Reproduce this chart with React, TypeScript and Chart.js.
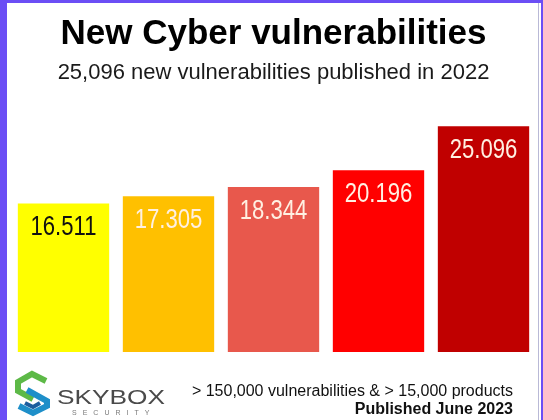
import React, { useEffect, useRef } from "react";
import { Chart, registerables } from "chart.js";

Chart.register(...registerables);

const years = ["2018", "2019", "2020", "2021", "2022"];
const newVulnerabilities = [16511, 17305, 18344, 20196, 25096];
const barColors = ["#FFFF00", "#FFC000", "#E8584C", "#FF0000", "#C00000"];
const labelColors = ["#111111", "#FFF0E2", "#FFF0E2", "#FFF0E2", "#FFF0E2"];
const titleText = "New Cyber vulnerabilities";
const subtitleText = "25,096 new vulnerabilities published in 2022";
const footerLine1 = "> 150,000 vulnerabilities & > 15,000 products";
const footerLine2 = "Published June 2023";
const brandName = "SKYBOX";
const brandSub = "SECURITY";

const fmt = (v: number) =>
  Math.floor(v / 1000) + "." + String(v % 1000).padStart(3, "0");

const valueLabels = {
  id: "valueLabels",
  afterDatasetsDraw(chart: any) {
    const ctx = chart.ctx;
    const meta = chart.getDatasetMeta(0);
    const data = chart.data.datasets[0].data as number[];
    meta.data.forEach((bar: any, i: number) => {
      ctx.save();
      ctx.translate(bar.x, bar.y + 32);
      ctx.scale(0.79, 1);
      ctx.font = "28px 'Liberation Sans', Arial, sans-serif";
      ctx.textAlign = "center";
      ctx.textBaseline = "alphabetic";
      ctx.fillStyle = labelColors[i];
      ctx.fillText(fmt(data[i]), 0, 0);
      ctx.restore();
    });
  },
};

const decorations = {
  id: "decorations",
  afterDraw(chart: any) {
    const ctx = chart.ctx;
    const W = chart.width;
    const H = chart.height;
    ctx.save();
    // frame
    ctx.fillStyle = "#6B4EF5";
    ctx.fillRect(0, 0, 7, H);
    ctx.fillRect(0, 0, W, 3);
    ctx.fillRect(W - 2, 0, 2, H);
    ctx.fillStyle = "#B9B9D6";
    ctx.fillRect(W - 5, 3, 1, H);

    // logo mark
    ctx.lineWidth = 6;
    ctx.lineJoin = "miter";
    ctx.strokeStyle = "#5DB947";
    ctx.beginPath();
    ctx.moveTo(46, 381);
    ctx.lineTo(32, 374);
    ctx.lineTo(18, 382);
    ctx.lineTo(18, 391);
    ctx.lineTo(33, 399);
    ctx.stroke();
    ctx.strokeStyle = "#1E8FC9";
    ctx.beginPath();
    ctx.moveTo(27, 390);
    ctx.lineTo(47, 401);
    ctx.lineTo(47, 406);
    ctx.lineTo(33, 413);
    ctx.lineTo(19, 406);
    ctx.stroke();
    ctx.strokeStyle = "#1B5E9E";
    ctx.lineWidth = 4;
    ctx.beginPath();
    ctx.moveTo(25, 403);
    ctx.lineTo(33, 407);
    ctx.lineTo(40, 403);
    ctx.stroke();

    // brand text
    ctx.fillStyle = "#4A4A4A";
    ctx.textAlign = "left";
    ctx.textBaseline = "alphabetic";
    ctx.save();
    ctx.translate(57, 404);
    ctx.scale(1.25, 1);
    ctx.font = "21px 'Liberation Sans', Arial, sans-serif";
    ctx.fillText(brandName, 0, 0);
    ctx.restore();
    ctx.fillStyle = "#7A7A7A";
    ctx.font = "7px 'Liberation Sans', Arial, sans-serif";
    (ctx as any).letterSpacing = "6px";
    ctx.fillText(brandSub, 72, 415);
    (ctx as any).letterSpacing = "0px";

    // footer text
    ctx.fillStyle = "#111111";
    ctx.textAlign = "right";
    ctx.font = "16px 'Liberation Sans', Arial, sans-serif";
    ctx.fillText(footerLine1, 513, 396);
    ctx.font = "bold 16px 'Liberation Sans', Arial, sans-serif";
    ctx.fillText(footerLine2, 513, 414);
    ctx.restore();
  },
};

export default function App() {
  const canvasRef = useRef<HTMLCanvasElement | null>(null);

  useEffect(() => {
    document.body.style.margin = "0";
    const canvas = canvasRef.current;
    if (!canvas) return;
    const chart = new Chart(canvas, {
      type: "bar",
      data: {
        labels: years,
        datasets: [
          {
            data: newVulnerabilities,
            backgroundColor: barColors,
            borderWidth: 0,
            barPercentage: 0.87,
            categoryPercentage: 1,
          },
        ],
      },
      options: {
        responsive: false,
        animation: false,
        layout: { padding: { left: 11, right: 7, top: 0, bottom: 68 } },
        scales: {
          x: { display: false },
          y: { display: false, min: 0, max: 28000 },
        },
        plugins: {
          legend: { display: false },
          tooltip: { enabled: false },
          title: {
            display: true,
            text: titleText,
            color: "#000000",
            font: {
              family: "'Liberation Sans', Arial, sans-serif",
              size: 35,
              weight: "bold",
              lineHeight: 1,
            },
            padding: { top: 17, bottom: 0 },
          },
          subtitle: {
            display: true,
            text: subtitleText,
            color: "#1A1A1A",
            font: {
              family: "'Liberation Sans', Arial, sans-serif",
              size: 22,
              lineHeight: 1,
            },
            padding: { top: 10, bottom: 16 },
          },
        },
      },
      plugins: [valueLabels, decorations],
    });
    return () => chart.destroy();
  }, []);

  return (
    <div style={{ width: 543, height: 420, background: "#ffffff" }}>
      <canvas ref={canvasRef} width={543} height={420} />
    </div>
  );
}
